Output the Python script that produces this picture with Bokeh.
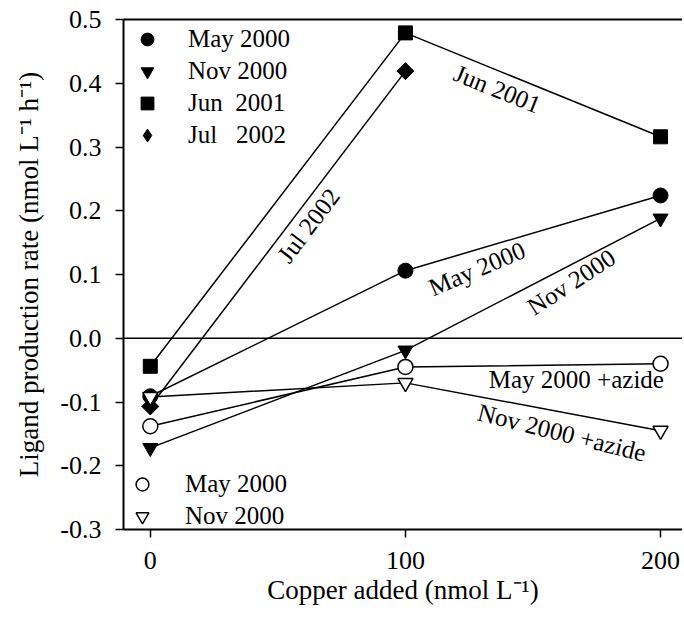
import numpy as np
from bokeh.plotting import figure
from bokeh.models import (Range1d, LinearAxis, FixedTicker, Span, Label, Legend,
                          LegendItem, NumeralTickFormatter)
from bokeh.embed import file_html
from bokeh.resources import INLINE

# ---- data ----
copper = [0, 100, 200]
copper_jul = [0, 100]
may2000 = [-0.091, 0.106, 0.224]
nov2000 = [-0.172, -0.019, 0.188]
jun2001 = [-0.044, 0.479, 0.316]
jul2002 = [-0.107, 0.419]
may2000_azide = [-0.138, -0.045, -0.040]
nov2000_azide = [-0.092, -0.070, -0.145]

x_ticks = [0, 100, 200]
y_ticks = [-0.3, -0.2, -0.1, 0.0, 0.1, 0.2, 0.3, 0.4, 0.5]

FONT = "Liberation Serif"

p = figure(width=682, height=615, output_backend="svg", toolbar_location=None,
           x_range=Range1d(-10.5, 208.6), y_range=Range1d(-0.3, 0.5),
           min_border_left=123, min_border_right=0, min_border_top=19,
           min_border_bottom=86)
p.grid.visible = False
p.outline_line_color = None

for ax in (p.xaxis[0], p.yaxis[0]):
    ax.axis_line_width = 2
    ax.major_tick_line_width = 1.5
    ax.major_tick_in = 0
    ax.major_tick_out = 8
    ax.minor_tick_line_color = None
    ax.major_label_text_font = FONT
    ax.major_label_text_font_size = "26px"
    ax.major_label_text_color = "black"
    ax.axis_label_text_font = FONT
    ax.axis_label_text_font_style = "normal"
    ax.axis_label_text_font_size = "27px"
    ax.axis_label_text_color = "black"

p.xaxis.ticker = FixedTicker(ticks=x_ticks)
p.yaxis.ticker = FixedTicker(ticks=y_ticks)
p.yaxis.formatter = NumeralTickFormatter(format="0.0")
p.xaxis.major_label_standoff = 14
p.yaxis.major_label_standoff = 14
p.xaxis.axis_label_standoff = 3
p.yaxis.axis_label_standoff = 13
p.xaxis.axis_label = "Copper added (nmol L\u207b\u00b9)"
p.yaxis.axis_label = "Ligand production rate (nmol L\u207b\u00b9 h\u207b\u00b9)"

top = LinearAxis(ticker=FixedTicker(ticks=[]), axis_line_width=2,
                 major_tick_line_color=None, minor_tick_line_color=None,
                 major_label_text_font_size="0px")
p.add_layout(top, "above")

p.add_layout(Span(location=0, dimension="width", line_color="black", line_width=1.5))

LW = 1.5
p.line(copper, jun2001, line_color="black", line_width=LW)
p.line(copper_jul, jul2002, line_color="black", line_width=LW)
p.line(copper, may2000, line_color="black", line_width=LW)
p.line(copper, nov2000, line_color="black", line_width=LW)
p.line(copper, may2000_azide, line_color="black", line_width=LW)
p.line(copper, nov2000_azide, line_color="black", line_width=LW)

r_jun = p.scatter(copper, jun2001, marker="square", size=14, color="black")
# diamond glyph (used as legend key) underneath the rotated-square data markers
r_jul_key = p.scatter(copper_jul, jul2002, marker="diamond", size=16, color="black")
r_jul = p.scatter(copper_jul, jul2002, marker="square", size=12, angle=np.pi / 4, color="black")
r_may = p.scatter(copper, may2000, marker="circle", size=15, color="black")
r_nov = p.scatter(copper, nov2000, marker="inverted_triangle", size=15, color="black")
r_maya = p.scatter(copper, may2000_azide, marker="circle", size=15, fill_color="white",
                   line_color="black", line_width=1.5)
r_nova = p.scatter(copper, nov2000_azide, marker="inverted_triangle", size=15,
                   fill_color="white", line_color="black", line_width=1.5)

leg_style = dict(margin=0, padding=0, glyph_width=42, glyph_height=32, spacing=0,
                 label_text_font=FONT, label_text_font_size="25px",
                 label_text_color="black", border_line_color=None,
                 background_fill_alpha=0)
leg1 = Legend(items=[LegendItem(label="May 2000", renderers=[r_may]),
                     LegendItem(label="Nov 2000", renderers=[r_nov]),
                     LegendItem(label="Jun\u00a0 2001", renderers=[r_jun]),
                     LegendItem(label="Jul\u00a0\u00a0 2002", renderers=[r_jul_key])],
              location=(3, 378), label_standoff=20, **leg_style)
leg2 = Legend(items=[LegendItem(label="May 2000", renderers=[r_maya]),
                     LegendItem(label="Nov 2000", renderers=[r_nova])],
              location=(-2, -3), label_standoff=22, **leg_style)
p.add_layout(leg1)
p.add_layout(leg2)

def lab(x, y, t, ang):
    p.add_layout(Label(x=x, y=y, text=t, angle=ang, angle_units="deg",
                       text_align="center", text_baseline="middle",
                       text_font=FONT, text_font_size="25px", text_color="black"))

lab(136, 0.391, "Jun 2001", -22)
lab(62, 0.177, "Jul 2002", 53)
lab(128, 0.109, "May 2000", 23)
lab(165, 0.088, "Nov 2000", 33)
lab(167, -0.064, "May 2000 +azide", 0)
lab(161.3, -0.148, "Nov 2000 +azide", -14)

open("out.html", "w").write(file_html(p, INLINE))
